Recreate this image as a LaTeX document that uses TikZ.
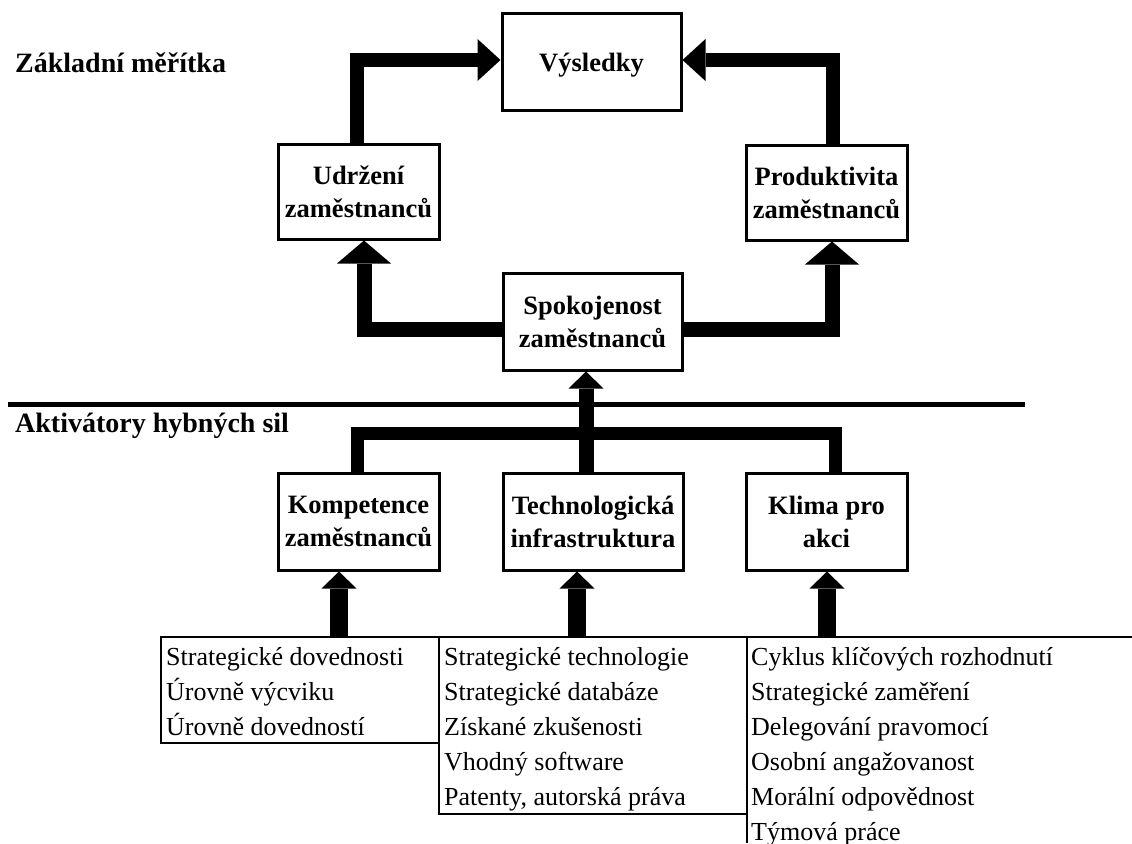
\documentclass[tikz,border=0pt]{standalone}
\usepackage{fontspec}
\setmainfont{Liberation Serif}
\usetikzlibrary{arrows.meta}

\begin{document}
\begin{tikzpicture}[x=1pt,y=-1pt,
  box/.style={draw,line width=3pt,inner sep=0pt,align=center,text depth=0pt,
    font=\fontsize{26.5}{33}\selectfont\bfseries},
  head/.style={inner sep=0pt,anchor=base west,font=\fontsize{28}{34}\selectfont\bfseries},
  listtext/.style={inner sep=0pt,anchor=north west,align=left,font=\fontsize{26}{35}\selectfont},
  frame/.style={draw,line width=2.5pt},
  a1/.style={line width=14pt,-{Triangle[width=42pt,length=23pt,line width=0pt]}},
  a2/.style={line width=15pt,-{Triangle[width=54pt,length=23pt,line width=0pt]}},
  a3/.style={line width=15pt,-{Triangle[width=35pt,length=17pt,line width=0pt]}},
  a4/.style={line width=18pt,-{Triangle[width=35pt,length=17pt,line width=0pt]}},
  bus/.style={line width=13pt}]
\useasboundingbox (0,0) rectangle (1132,843);

% upper level: results and core measures
\node[box,minimum width=179pt,minimum height=96pt] (vys) at (591.5,62) {Výsledky};
\node[box,minimum width=161pt,minimum height=95pt] (udr) at (358.5,191.5) {Udržení\\zaměstnanců};
\node[box,minimum width=161pt,minimum height=95pt] (prod) at (826.5,192.5) {Produktivita\\zaměstnanců};
\node[box,minimum width=179pt,minimum height=97pt] (spok) at (592.5,321.5) {Spokojenost\\zaměstnanců};

% lower level: enablers
\node[box,minimum width=161pt,minimum height=97pt] (komp) at (358.5,521.5) {Kompetence\\zaměstnanců};
\node[box,minimum width=180pt,minimum height=97pt] (tech) at (593,521.5) {Technologická\\infrastruktura};
\node[box,minimum width=161pt,minimum height=97pt] (klima) at (826.5,521.5) {Klima pro\\akci};

% section headings and divider
\node[head] (zm) at (15,73) {Základní měřítka};
\node[head] (akt) at (15,432) {Aktivátory hybných sil};
\draw[line width=4.5pt] (8,404.5) -- (1025,404.5);

% lists of factors
\draw[frame] (161,637) rectangle (439,743);
\draw[frame] (439,637) rectangle (747,814);
\draw[frame] (747,843) -- (747,637) -- (1132,637);
\node[listtext] (l1) at (166,640.5) {\strut Strategické dovednosti\\\strut Úrovně výcviku\\\strut Úrovně dovedností};
\node[listtext] (l2) at (444,640.5) {\strut Strategické technologie\\\strut Strategické databáze\\\strut Získané zkušenosti\\\strut Vhodný software\\\strut Patenty, autorská práva};
\node[listtext] (l3) at (751,640.5) {\strut Cyklus klíčových rozhodnutí\\\strut Strategické zaměření\\\strut Delegování pravomocí\\\strut Osobní angažovanost\\\strut Morální odpovědnost\\\strut Týmová práce};

\coordinate (t1) at (339,637);
\coordinate (t2) at (577,637);
\coordinate (t3) at (827,637);

% connectors
\draw[a1] ([xshift=-1.5pt]udr.north) |- ([yshift=2pt]vys.west);
\draw[a1] ([xshift=6.5pt]prod.north) |- ([yshift=2pt]vys.east);
\draw[a2] ([yshift=-8pt]spok.west) -| ([xshift=5.5pt]udr.south);
\draw[a2] ([yshift=-8pt]spok.east) -| ([xshift=5.5pt]prod.south);
\draw[bus] ([xshift=-1.5pt]komp.north) -- ++(0,-38) -| ([xshift=8.5pt]klima.north);
\draw[a3] ([xshift=-7pt]tech.north) -- ([xshift=-6.5pt]spok.south);
\draw[a4] (t1) -- (t1 |- komp.south);
\draw[a4] (t2) -- (t2 |- tech.south);
\draw[a4] (t3) -- (t3 |- klima.south);
\end{tikzpicture}
\end{document}
